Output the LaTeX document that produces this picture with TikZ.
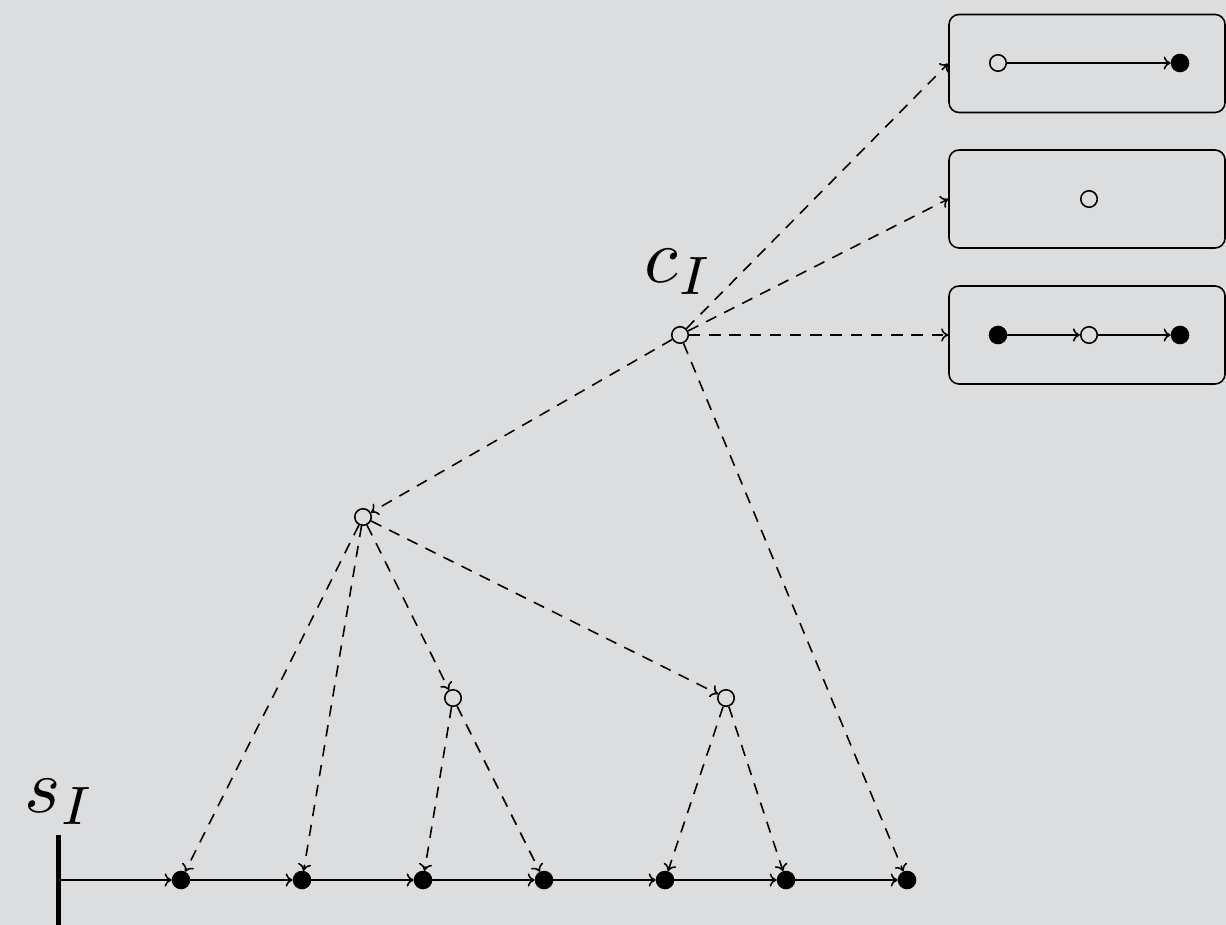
\documentclass[tikz,border=0pt]{standalone}
\usetikzlibrary{arrows.meta}
\definecolor{bg}{RGB}{220,221,223}
\begin{document}
\begin{tikzpicture}[x=0.02cm,y=-0.02cm,
  filled/.style={circle,fill=black,draw=black,line width=0.9pt,minimum size=0.34cm,inner sep=0pt},
  hollow/.style={circle,fill=bg,draw=black,line width=0.9pt,minimum size=0.33cm,inner sep=0pt},
  solidarr/.style={line width=0.9pt,-{To[length=4pt,width=7.5pt]}},
  dasharr/.style={line width=0.9pt,dash pattern=on 6.5pt off 5pt,-{To[length=4pt,width=7.5pt]}},
  box/.style={draw=black,line width=0.9pt,rounded corners=0.2cm,minimum width=276*0.02cm,minimum height=98*0.02cm,inner sep=0pt},
  lbl/.style={inner sep=0pt}]
\fill[bg] (0,0) rectangle (1226,925);
\useasboundingbox (0,0) rectangle (1226,925);
% boxes
\node[box] (b1) at (1087,63.5) {};
\node[box] (b2) at (1087,199) {};
\node[box] (b3) at (1087,335) {};
\node[hollow] (b1a) at (998,63) {};
\node[filled] (b1b) at (1180,63) {};
\draw[solidarr] (b1a) -- (b1b);
\node[hollow] (b2a) at (1089,199) {};
\node[filled] (b3a) at (998,335) {};
\node[hollow] (b3b) at (1089,335) {};
\node[filled] (b3c) at (1180,335) {};
\draw[solidarr] (b3a) -- (b3b);
\draw[solidarr] (b3b) -- (b3c);
% tree nodes
\node[hollow] (c) at (680,335) {};
\node[lbl] (cl) at (679,272) {\scalebox{4.4}{$c_I$}};
\node[hollow] (m) at (363,517) {};
\node[hollow] (l) at (453,698) {};
\node[hollow] (r) at (726,698) {};
% bottom line
\node[lbl] (sl) at (60,802) {\scalebox{4.4}{$s_I$}};
\draw[line width=0.1cm] (58,835) -- (58,930);
\coordinate (s0) at (58,880);
\node[filled] (d1) at (181,880) {};
\node[filled] (d2) at (302,880) {};
\node[filled] (d3) at (423,880) {};
\node[filled] (d4) at (544,880) {};
\node[filled] (d5) at (665,880) {};
\node[filled] (d6) at (786,880) {};
\node[filled] (d7) at (907,880) {};
\draw[solidarr] (s0) -- (d1);
\draw[solidarr] (d1) -- (d2);
\draw[solidarr] (d2) -- (d3);
\draw[solidarr] (d3) -- (d4);
\draw[solidarr] (d4) -- (d5);
\draw[solidarr] (d5) -- (d6);
\draw[solidarr] (d6) -- (d7);
% dashed arrows
\draw[dasharr] (c) -- (b1.west);
\draw[dasharr] (c) -- (b2.west);
\draw[dasharr] (c) -- (b3.west);
\draw[dasharr] (c) -- (m);
\draw[dasharr] (c) -- (d7);
\draw[dasharr] (m) -- (d1);
\draw[dasharr] (m) -- (d2);
\draw[dasharr] (m) -- (l);
\draw[dasharr] (m) -- (r);
\draw[dasharr] (l) -- (d3);
\draw[dasharr] (l) -- (d4);
\draw[dasharr] (r) -- (d5);
\draw[dasharr] (r) -- (d6);
\end{tikzpicture}
\end{document}
